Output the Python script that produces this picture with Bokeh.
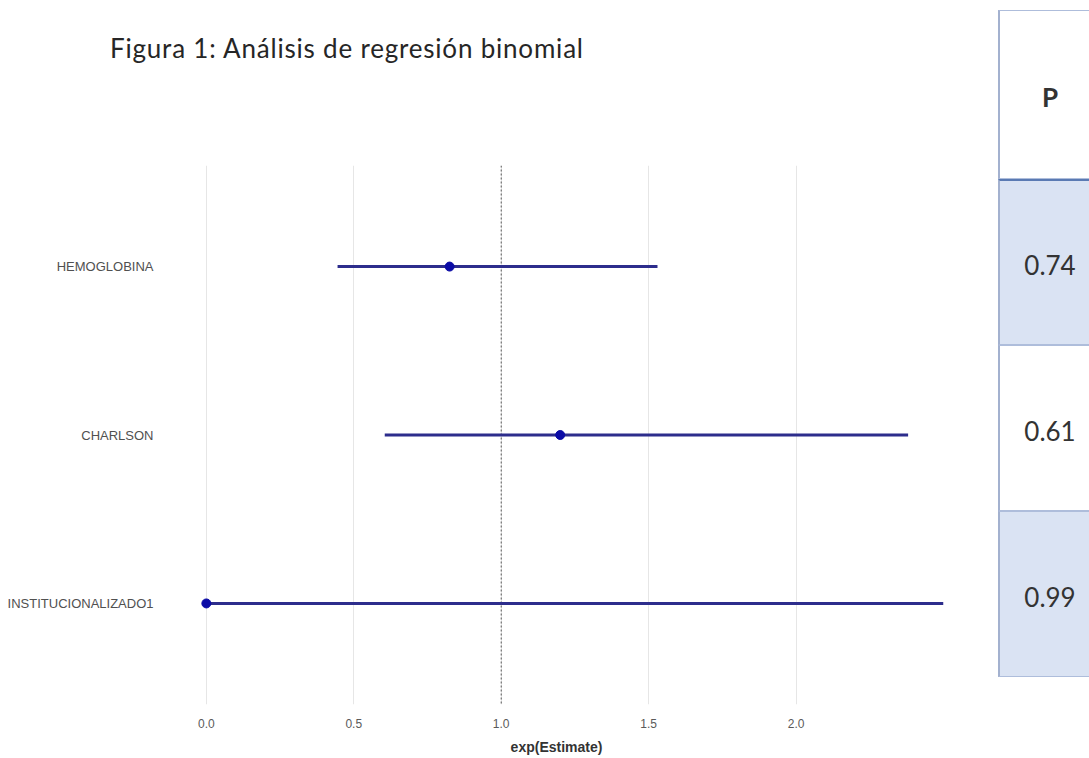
from bokeh.plotting import figure
from bokeh.models import (FactorRange, Range1d, FixedTicker, NumeralTickFormatter,
                          Span, ColumnDataSource, Div)
from bokeh.layouts import row, column
from bokeh.embed import file_html
from bokeh.resources import INLINE

# ---------------- data ----------------
variables = ["HEMOGLOBINA", "CHARLSON", "INSTITUCIONALIZADO1"]
estimate = [0.825, 1.20, 0.0]
ci_low = [0.445, 0.605, 0.0]
ci_high = [1.53, 2.38, 2.50]
x_ticks = [0.0, 0.5, 1.0, 1.5, 2.0]
reference = 1.0
table_header = "P"
p_values = ["0.74", "0.61", "0.99"]
title_text = "Figura 1: Análisis de regresión binomial"
x_label = "exp(Estimate)"

# ---------------- title ----------------
title_div = Div(
    text=('<div style="margin:0;padding:35px 0 0 110px;font-family:Lato;'
          'font-size:26px;line-height:26px;letter-spacing:0.8px;color:#262626;'
          'white-space:nowrap;">' + title_text + '</div>'),
    width=998, height=100, margin=0)

# ---------------- forest plot ----------------
src = ColumnDataSource(dict(var=variables, est=estimate, lo=ci_low, hi=ci_high))

p = figure(width=998, height=658,
           y_range=FactorRange(factors=variables[::-1], range_padding=0.1,
                               range_padding_units="absolute"),
           x_range=Range1d(-0.125, 2.5),
           output_backend="svg", toolbar_location=None,
           min_border_left=169, min_border_right=55,
           min_border_top=65, min_border_bottom=54)
p.outline_line_color = None
p.background_fill_color = "white"
p.border_fill_color = "white"

p.xgrid.ticker = FixedTicker(ticks=x_ticks)
p.xgrid.grid_line_color = "#e6e6e6"
p.xgrid.grid_line_width = 1
p.ygrid.grid_line_color = None

p.xaxis.ticker = FixedTicker(ticks=x_ticks)
p.xaxis.formatter = NumeralTickFormatter(format="0.0")
p.xaxis.axis_line_color = None
p.xaxis.major_tick_line_color = None
p.xaxis.minor_tick_line_color = None
p.xaxis.major_label_standoff = 8
p.xaxis.major_label_text_font = "Liberation Sans"
p.xaxis.major_label_text_font_size = "12px"
p.xaxis.major_label_text_color = "#5a5a5a"
p.xaxis.axis_label = x_label
p.xaxis.axis_label_text_font = "Liberation Sans"
p.xaxis.axis_label_text_font_size = "14px"
p.xaxis.axis_label_text_font_style = "bold"
p.xaxis.axis_label_text_color = "#333333"
p.xaxis.axis_label_standoff = 8

p.yaxis.axis_line_color = None
p.yaxis.major_tick_line_color = None
p.yaxis.minor_tick_line_color = None
p.yaxis.major_label_text_font = "Liberation Sans"
p.yaxis.major_label_text_font_size = "13px"
p.yaxis.major_label_text_color = "#505050"
p.yaxis.major_label_standoff = 10

ref = Span(location=reference, dimension="height", line_color="#555555",
           line_width=1, line_dash="2 2", level="underlay")
p.add_layout(ref)

p.segment(x0="lo", y0="var", x1="hi", y1="var", source=src,
          line_color="#2d2d8c", line_width=3)
p.scatter(x="est", y="var", source=src, size=9, fill_color="#0b0ba6",
          line_color="#0b0ba6")

# ---------------- p-value table ----------------
labels = [table_header] + p_values
row_edges = [10, 179, 345, 511, 677]
fills = ["#ffffff", "#dae3f3", "#ffffff", "#dae3f3"]
parts = ['<div style="position:relative;width:91px;height:758px;overflow:hidden;'
         'font-family:Lato;color:#333333;">']
for i, lab in enumerate(labels):
    top = row_edges[i]
    h = row_edges[i + 1] - row_edges[i]
    top_border = "2px solid #5a7ab3" if i == 1 else "1.5px solid #aebddb"
    parts.append(
        f'<div style="position:absolute;left:0px;top:{top}px;width:140px;'
        f'height:{h}px;box-sizing:border-box;background:{fills[i]};'
        f'border-left:2px solid #a3b1cf;border-top:{top_border};'
        f'border-bottom:1.5px solid #aebddb;"></div>')
    weight = "bold" if i == 0 else "normal"
    parts.append(
        f'<div style="position:absolute;left:0px;top:{top + 3}px;width:104px;'
        f'height:{h}px;line-height:{h}px;text-align:center;'
        f'font-size:26px;font-weight:{weight};">{lab}</div>')
parts.append('</div>')
table_div = Div(text="".join(parts), width=91, height=758, margin=0)

layout = row(column(title_div, p, spacing=0), table_div, spacing=0)
open("out.html", "w").write(file_html(layout, INLINE))
